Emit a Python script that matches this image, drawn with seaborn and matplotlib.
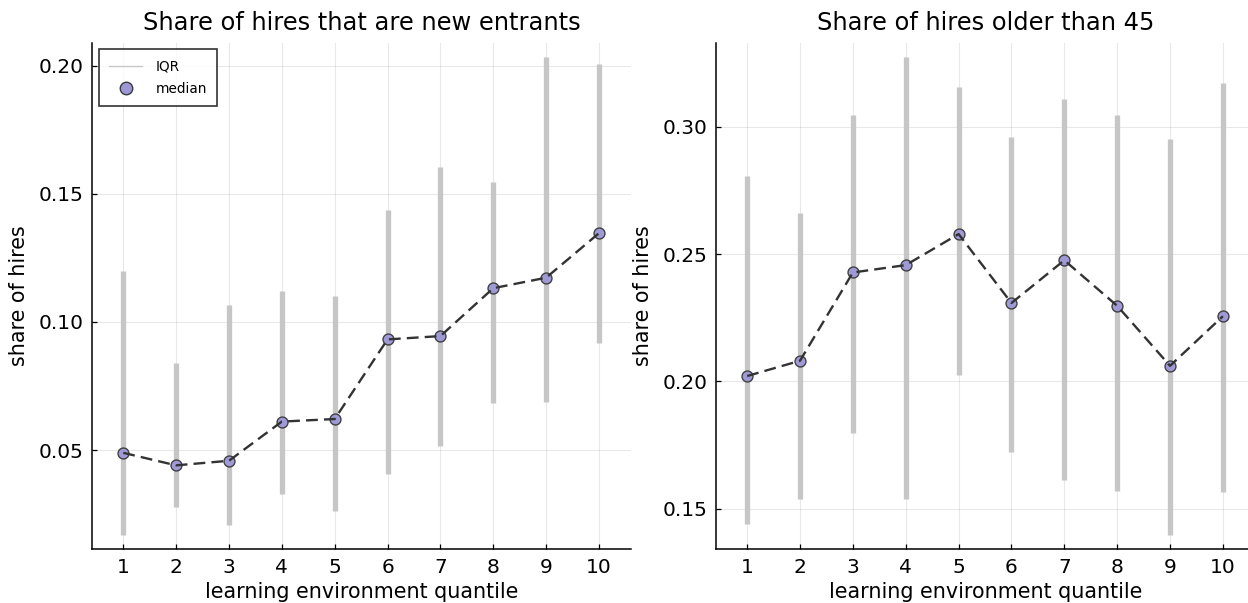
import numpy as np
import pandas as pd
import matplotlib
matplotlib.use("Agg")
import matplotlib.pyplot as plt
from matplotlib.lines import Line2D
import seaborn as sns

# learning environment quantiles
quantiles = [1, 2, 3, 4, 5, 6, 7, 8, 9, 10]

# share of hires that are new entrants: median and interquartile range
entrants_median = [0.0489, 0.0440, 0.0458, 0.0611, 0.0621, 0.0932, 0.0945, 0.1132, 0.1173, 0.1347]
entrants_q25 = [0.0168, 0.0276, 0.0208, 0.0329, 0.0263, 0.0406, 0.0517, 0.0685, 0.0689, 0.0917]
entrants_q75 = [0.1199, 0.0840, 0.1065, 0.1121, 0.1102, 0.1438, 0.1605, 0.1547, 0.2035, 0.2007]

# share of hires older than 45: median and interquartile range
older_median = [0.2021, 0.2081, 0.2428, 0.2457, 0.2579, 0.2308, 0.2476, 0.2297, 0.2061, 0.2256]
older_q25 = [0.1440, 0.1539, 0.1796, 0.1539, 0.2025, 0.1723, 0.1612, 0.1569, 0.1396, 0.1566]
older_q75 = [0.2807, 0.2662, 0.3047, 0.3275, 0.3157, 0.2960, 0.3110, 0.3047, 0.2953, 0.3173]

titles = ["Share of hires that are new entrants", "Share of hires older than 45"]
yticks_left = [0.05, 0.10, 0.15, 0.20]
yticks_right = [0.15, 0.20, 0.25, 0.30]

sns.set_theme(style="white")
plt.rcParams["font.family"] = ["DejaVu Sans"]
plt.rcParams["text.color"] = "black"
plt.rcParams["axes.labelcolor"] = "black"
plt.rcParams["xtick.color"] = "black"
plt.rcParams["ytick.color"] = "black"

MARKER_FILL = "#9d97d6"
IQR_GREY = "#c6c6c6"
LINE_DARK = "#333333"

fig = plt.figure(figsize=(12.48, 6.03), dpi=100)
ax_l = fig.add_axes([0.07396, 0.0890, 0.4314, 0.8402])
ax_r = fig.add_axes([0.57388, 0.0890, 0.4314, 0.8402])


def draw_panel(ax, med, q25, q75, title, yticks):
    df = pd.DataFrame({"quantile": quantiles, "median": med, "q25": q25, "q75": q75})
    ax.vlines(df["quantile"], df["q25"], df["q75"], color=IQR_GREY, lw=3.8, zorder=1)
    sns.scatterplot(data=df, x="quantile", y="median", ax=ax, s=62,
                    color=MARKER_FILL, edgecolor="#3a3a3a", linewidth=1.0,
                    alpha=0.95, zorder=2, legend=False)
    sns.lineplot(data=df, x="quantile", y="median", ax=ax, color=LINE_DARK,
                 lw=1.7, linestyle=(0, (5, 2.6)), zorder=3, legend=False)

    lo = min(q25)
    hi = max(q75)
    pad = 0.03 * (hi - lo)
    ax.set_ylim(lo - pad, hi + pad)
    ax.set_xlim(0.414, 10.6)
    ax.set_xticks(quantiles)
    ax.set_yticks(yticks)
    ax.set_yticklabels([f"{t:.2f}" for t in yticks])
    ax.grid(True, color="#000000", alpha=0.09, lw=0.8)
    ax.set_axisbelow(True)
    for side in ["top", "right"]:
        ax.spines[side].set_visible(False)
    for side in ["left", "bottom"]:
        ax.spines[side].set_color("black")
        ax.spines[side].set_linewidth(1.1)
    ax.tick_params(direction="in", length=3.5, width=0.9, labelsize=14.5,
                   color="black", labelcolor="black", pad=6, left=True, bottom=True)
    ax.set_title(title, fontsize=17.4, pad=9, color="black")
    ax.set_xlabel("learning environment quantile", fontsize=14.9, labelpad=4)
    ax.set_ylabel("share of hires", fontsize=14.9, labelpad=7)


draw_panel(ax_l, entrants_median, entrants_q25, entrants_q75, titles[0], yticks_left)
draw_panel(ax_r, older_median, older_q25, older_q75, titles[1], yticks_right)

handles = [
    Line2D([0], [0], color="#c8c8c8", lw=1.0, label="IQR"),
    Line2D([0], [0], marker="o", linestyle="none", markersize=9,
           markerfacecolor=MARKER_FILL, markeredgecolor="#3a3a3a",
           markeredgewidth=1.0, label="median"),
]
leg = ax_l.legend(handles=handles, loc="upper left", fontsize=9.8,
                  frameon=True, fancybox=False, borderaxespad=0.5,
                  handlelength=2.4, handletextpad=1.0, borderpad=0.75,
                  labelspacing=0.6)
leg.get_frame().set_edgecolor("black")
leg.get_frame().set_linewidth(1.2)

fig.savefig("out.png", dpi=100)
